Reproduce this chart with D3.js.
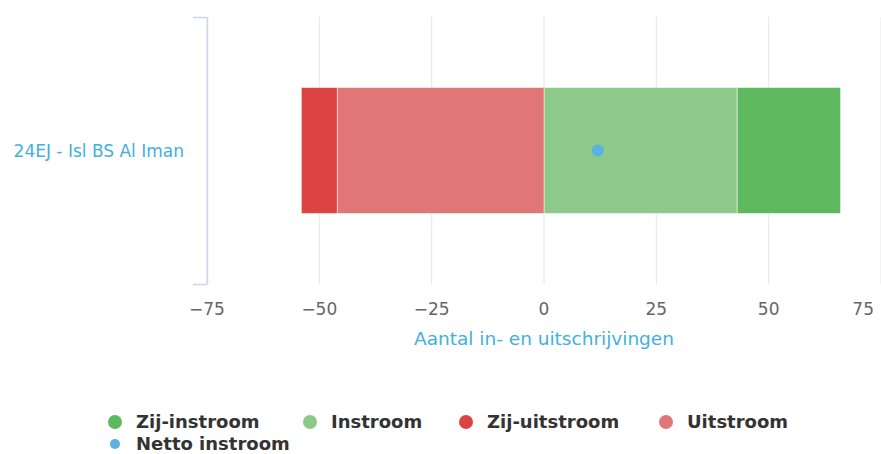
<!DOCTYPE html>
<html>
<head>
<meta charset="utf-8">
<script src="https://cdn.jsdelivr.net/npm/d3@7"></script>
<style>
  body { margin: 0; background: #fff; }
  #chart { width: 881px; height: 454px; }
  text { font-family: "DejaVu Sans", Verdana, sans-serif; }
</style>
</head>
<body>
<div id="chart"></div>
<script>
const categories = ["24EJ - Isl BS Al Iman"];
const seriesNames = ["Zij-instroom", "Instroom", "Zij-uitstroom", "Uitstroom"];
const zijInstroom = [23];
const instroom = [43];
const zijUitstroom = [-8];
const uitstroom = [-46];
const nettoInstroom = [12];
const xTicks = [-75, -50, -25, 0, 25, 50, 75];

const colors = {
  "Zij-instroom": "#5eb95e",
  "Instroom": "#8cc98a",
  "Zij-uitstroom": "#de4343",
  "Uitstroom": "#e07676",
  "Netto instroom": "#5cb0e2"
};

const width = 881;
const height = 454;
const margin = { top: 17, right: 0, bottom: 170, left: 207 };
const innerWidth = width - margin.left - margin.right;
const innerHeight = height - margin.top - margin.bottom;

const svg = d3.select("#chart")
  .append("svg")
  .attr("width", width)
  .attr("height", height);

const chart = svg.append("g")
  .attr("transform", `translate(${margin.left},${margin.top})`);

const x = d3.scaleLinear().domain([-75, 75]).range([0, innerWidth]);
const y = d3.scaleBand().domain(categories).range([0, innerHeight]).paddingInner(0).paddingOuter(0);

// gridlines
chart.append("g")
  .selectAll("line")
  .data(xTicks)
  .enter()
  .append("line")
  .attr("x1", (d) => x(d))
  .attr("x2", (d) => x(d))
  .attr("y1", 0)
  .attr("y2", innerHeight)
  .attr("stroke", "#e6e6e6")
  .attr("stroke-width", 1);

// stacked segments: positives stack right from 0, negatives stack left
const segments = [];
categories.forEach((cat, i) => {
  let pos = 0;
  let neg = 0;
  [["Instroom", instroom[i]], ["Zij-instroom", zijInstroom[i]],
   ["Uitstroom", uitstroom[i]], ["Zij-uitstroom", zijUitstroom[i]]].forEach(([name, v]) => {
    if (v >= 0) {
      segments.push({ cat, name, x0: pos, x1: pos + v });
      pos += v;
    } else {
      segments.push({ cat, name, x0: neg + v, x1: neg });
      neg += v;
    }
  });
});

const barHeight = 126;
chart.append("g")
  .selectAll("rect")
  .data(segments)
  .enter()
  .append("rect")
  .attr("x", (d) => x(d.x0))
  .attr("width", (d) => x(d.x1) - x(d.x0))
  .attr("y", (d) => y(d.cat) + (y.bandwidth() - barHeight) / 2)
  .attr("height", barHeight)
  .attr("fill", (d) => colors[d.name])
  .attr("stroke", "#ffffff")
  .attr("stroke-opacity", 0.5)
  .attr("stroke-width", 1);

// netto marker
chart.append("g")
  .selectAll("circle")
  .data(categories)
  .enter()
  .append("circle")
  .attr("cx", (d, i) => x(nettoInstroom[i]))
  .attr("cy", (d) => y(d) + y.bandwidth() / 2)
  .attr("r", 6)
  .attr("fill", colors["Netto instroom"]);

// y axis bracket
const yAxis = chart.append("g");
yAxis.append("line")
  .attr("x1", 0.5).attr("x2", 0.5)
  .attr("y1", 0).attr("y2", innerHeight)
  .attr("stroke", "#ccd6eb")
  .attr("stroke-width", 1.5);
y.domain().forEach((cat) => {
  [y(cat), y(cat) + y.bandwidth()].forEach((yy) => {
    yAxis.append("line")
      .attr("x1", -14).attr("x2", 0.5)
      .attr("y1", yy + 0.5).attr("y2", yy + 0.5)
      .attr("stroke", "#ccd6eb")
      .attr("stroke-width", 1.5);
  });
  yAxis.append("text")
    .attr("x", -23)
    .attr("y", y(cat) + y.bandwidth() / 2 + 6)
    .attr("text-anchor", "end")
    .attr("fill", "#3fb1e0")
    .attr("font-size", 17)
    .text(cat);
});

// x axis labels
chart.append("g")
  .selectAll("text")
  .data(xTicks)
  .enter()
  .append("text")
  .attr("x", (d, i) => i === xTicks.length - 1 ? x(d) - 7 : x(d))
  .attr("y", innerHeight + 31)
  .attr("text-anchor", (d, i) => i === xTicks.length - 1 ? "end" : "middle")
  .attr("fill", "#666666")
  .attr("font-size", 17)
  .text((d) => d === 0 ? "0" : d3.format("d")(d).replace("-", "\u2013"));

chart.append("text")
  .attr("x", x(0))
  .attr("y", innerHeight + 61)
  .attr("text-anchor", "middle")
  .attr("fill", "#3fb1e0")
  .attr("font-size", 18.5)
  .text("Aantal in- en uitschrijvingen");

// legend
const legendItems = [
  { name: "Zij-instroom", x: 115, y: 422, r: 7 },
  { name: "Instroom", x: 310, y: 422, r: 7 },
  { name: "Zij-uitstroom", x: 466, y: 422, r: 7 },
  { name: "Uitstroom", x: 666, y: 422, r: 7 },
  { name: "Netto instroom", x: 115, y: 444, r: 5 }
];
const legend = svg.append("g");
legendItems.forEach((d) => {
  legend.append("circle")
    .attr("cx", d.x)
    .attr("cy", d.y)
    .attr("r", d.r)
    .attr("fill", colors[d.name]);
  legend.append("text")
    .attr("x", d.x + 21)
    .attr("y", d.y + 6)
    .attr("fill", "#333333")
    .attr("font-size", 18)
    .attr("font-weight", "bold")
    .text(d.name);
});
</script>
</body>
</html>
